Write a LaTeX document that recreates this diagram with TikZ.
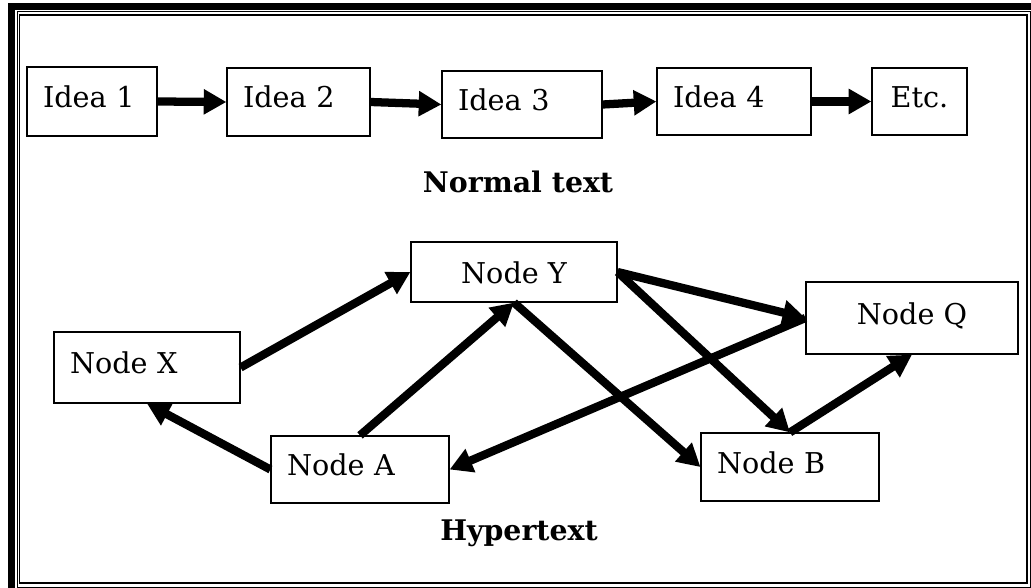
\documentclass[tikz,border=0pt]{standalone}
\usepackage{fontspec}
\setmainfont{DejaVu Serif}
\usetikzlibrary{arrows.meta}
\begin{document}
\begin{tikzpicture}[x=0.75pt,y=-0.75pt,
  box/.style={draw=black, line width=0.9pt, fill=white,
    font=\fontsize{21.5}{25}\selectfont, inner xsep=12pt, inner ysep=0pt,
    text height=12pt, text depth=3pt},
  lbox/.style 2 args={box, align=left, text width=#1pt, minimum height=#2pt},
  cbox/.style 2 args={box, align=center, minimum width=#1pt, minimum height=#2pt},
  link/.style={line width=6.2pt, -{Triangle[length=17pt,width=18pt]}},
  caption/.style={font=\fontsize{21.3}{25}\selectfont\bfseries, anchor=base}]
\useasboundingbox (0,0) rectangle (1031,588);

% page frame: heavy rule on top and left, two thin rules inside
\fill[black] (8,3) rectangle (15,588);
\fill[black] (8,3) rectangle (1031,10);
\draw[line width=0.75pt] (17,12) rectangle (1030,587);
\draw[line width=0.9pt] (19.5,15) rectangle (1027,583);

% linear chain of ideas
\node[lbox={73.5}{51.75}] (i1) at (92,101.5) {Idea~1};
\node[lbox={83.25}{51}] (i2) at (298.5,102) {Idea~2};
\node[lbox={96}{50.25}] (i3) at (522,104.5) {Idea~3};
\node[lbox={91.5}{50.25}] (i4) at (734,101.5) {Idea~4};
\node[cbox={71.25}{50.25}] (etc) at (919.5,101.5) {Etc.};

\draw[link] (i1.east) -- (i2.west);
\draw[link] (i2.east) -- (i3.west);
\draw[link] (i3.east) -- (i4.west);
\draw[link] (i4.east) -- (etc.west);

\node[caption] (cap1) at (518,193) {Normal text};

% web of linked nodes
\node[lbox={115.5}{53.25}] (nx) at (147,367.5) {Node~X};
\node[cbox={154.5}{45}, text height=16.5pt, text depth=0pt] (ny) at (514,272) {Node Y};
\node[cbox={159}{54}] (nq) at (912,318) {Node Q};
\node[lbox={109.5}{50.25}] (na) at (360,469.5) {Node~A};
\node[lbox={109.5}{51}] (nb) at (790,467) {Node~B};

\draw[link] (nx.east) -- (ny.west);
\draw[link] (na.west) -- (nx.south);
\draw[link] (na.north) -- (ny.south);
\draw[link] (ny.east) -- (nq.west);
\draw[link] (ny.east) -- (nb.north);
\draw[link] (ny.south) -- (nb.west);
\draw[link] (nb.north) -- (nq.south);
\draw[link] (nq.west) -- (na.east);

\node[caption] (cap2) at (519,540) {Hypertext};
\end{tikzpicture}
\end{document}
